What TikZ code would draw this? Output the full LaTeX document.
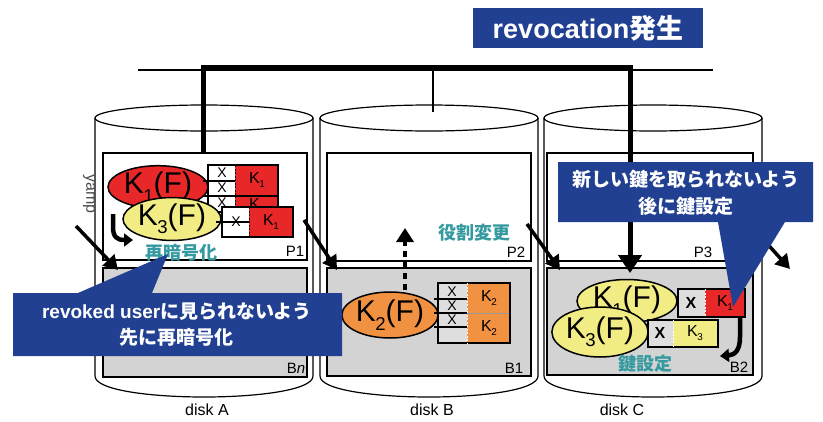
\documentclass[tikz,border=0pt]{standalone}
\usepackage{fontspec}
\usepackage{graphicx}
\setmainfont{Liberation Sans}
\newfontfamily\jp{Noto Sans CJK JP}
\usetikzlibrary{shapes.geometric,arrows.meta}
\definecolor{cblue}{RGB}{34,64,145}
\definecolor{cred}{RGB}{232,40,40}
\definecolor{cyel}{RGB}{242,236,132}
\definecolor{corange}{RGB}{241,145,66}
\definecolor{cgray}{RGB}{211,211,211}
\definecolor{ccell}{RGB}{222,222,222}
\definecolor{cteal}{RGB}{52,154,160}
\newcommand{\kk}[1]{K\kern-0.02em\raisebox{-0.28em}{\scalebox{0.62}{#1}}}
\tikzset{
  disk/.style={draw=black, line width=1.2pt, fill=white},
  panel/.style={draw=black, line width=1.6pt},
  keyell/.style={ellipse, draw=black, line width=1.5pt, inner sep=0pt, font=\fontsize{30}{30}\selectfont},
  keylab/.style={font=\fontsize{16}{16}\selectfont},
  xmark/.style={font=\fontsize{14}{14}\selectfont, inner sep=0pt},
  xbold/.style={font=\bfseries\fontsize{16}{16}\selectfont, inner sep=0pt},
  plab/.style={font=\fontsize{15}{15}\selectfont, inner sep=0pt},
  disklab/.style={font=\fontsize{16}{16}\selectfont},
  tealtext/.style={text=cteal, font=\jp\bfseries\fontsize{18}{18}\selectfont},
  callout/.style={fill=cblue, draw=none},
  calltext/.style={text=white, align=center, font=\bfseries\fontsize{19}{26}\selectfont},
  bigarrow/.style={line width=3.5pt, -{Triangle[length=14pt,width=16pt]}},
  blk/.style={draw=black, line width=1.5pt},
  divider/.style={draw=black, line width=0.8pt, dash pattern=on 2pt off 1.5pt},
}
\begin{document}
\begin{tikzpicture}[x=1pt,y=-1pt]
\useasboundingbox (0,0) rectangle (823,421);
\fill[white] (0,0) rectangle (823,421);

% ---- disks ----
\foreach \x in {95,320,544} {
  \draw[disk] (\x,118) -- (\x,376) .. controls (\x,404) and (\x+218,404) .. (\x+218,376) -- (\x+218,118);
  \draw[disk] (\x+109,118) ellipse [x radius=109, y radius=13];
}

% ---- bus lines ----
\coordinate (hl) at (138,70);
\coordinate (hr) at (713,70);
\coordinate (mt) at (433,70);
\coordinate (mb) at (433,112);
\draw[line width=1.5pt] (hl) -- (hr);
\draw[line width=1.5pt] (mt) -- (mb);

% ---- panels ----
\draw[panel, fill=white] (103,153) rectangle (307,260);
\draw[panel, fill=cgray] (103,268) rectangle (307,377);
\draw[panel, fill=white] (327,153) rectangle (531,261);
\draw[panel, fill=cgray] (327,268) rectangle (531,376);
\draw[panel, fill=white] (547,153) rectangle (753,261);
\draw[panel, fill=cgray] (547,268) rectangle (753,375);

\node[plab] (p1) at (295,251) {P1};
\node[plab] (bn) at (296,368) {B\textit{n}};
\node[plab] (p2) at (516,252) {P2};
\node[plab] (b1) at (514,368) {B1};
\node[plab] (p3) at (703,252) {P3};
\node[plab] (b2) at (739,367) {B2};

\node[disklab] (dA) at (207,410) {disk A};
\node[disklab] (dB) at (432,410) {disk B};
\node[disklab] (dC) at (622,410) {disk C};

% ---- thick revocation line ----
\coordinate (tA) at (203,153);
\coordinate (c1) at (203,67);
\coordinate (c2) at (630,67);
\coordinate (tC) at (630,273);
\draw[line width=5pt, -{Triangle[length=18pt,width=23pt]}] (tA) -- (c1) -- (c2) -- (tC);

% ---- disk A contents ----
\node[keyell, fill=cred, minimum width=100pt, minimum height=40pt] (k1a) at (158,187) {\kk{1}(F)};
% block A1
\fill[white] (208,165) rectangle (235,196);
\fill[cred] (235,165) rectangle (278,196);
\draw[blk] (208,165) rectangle (278,196);
\draw[line width=1.3pt] (203,181) -- (235,181);
\draw[divider] (235,165) -- (235,196);
\node[xmark] (xa1) at (222,173) {X};
\node[xmark] (xa2) at (222,188) {X};
\node[keylab] (ka1) at (257,180) {\kk{1}};
% block A2
\fill[white] (208,196) rectangle (235,212);
\fill[cred] (235,196) rectangle (278,212);
\draw[blk] (208,196) rectangle (278,212);
\draw[line width=1.3pt] (203,196) -- (208,196);
\draw[divider] (235,196) -- (235,212);
\node[xmark] (xa3) at (222,203) {X};
\node[keylab] (ka2) at (257,206) {\kk{1}};
% yellow ellipse
\node[keyell, fill=cyel, minimum width=98pt, minimum height=40pt] (k3a) at (172,219) {\kk{3}(F)};
% block A3
\fill[white] (222,207) rectangle (249,237);
\fill[cred] (249,207) rectangle (293,237);
\draw[blk] (222,207) rectangle (293,237);
\draw[line width=1.3pt] (216,222) -- (249,222);
\draw[divider] (249,207) -- (249,237);
\node[xmark] (xa4) at (236,222) {X};
\node[keylab] (ka3) at (271,222) {\kk{1}};
% curved arrow A
\coordinate (ra1) at (113,214);
\coordinate (ra2) at (133,240);
\draw[line width=4.5pt, -{Triangle[length=9pt,width=13pt]}] (ra1) -- (113,227) .. controls (113,237) and (117,240) .. (ra2);
\node[tealtext] (reenc) at (181,253) {再暗号化};
\node[font=\fontsize{16}{16}\selectfont, text=black!70, rotate=-90, inner sep=0pt] (yamp) at (89,194) {yamp};

% ---- disk B contents ----
\node[keyell, fill=corange, minimum width=96pt, minimum height=46pt] (k2b) at (390,315) {\kk{2}(F)};
\fill[ccell] (438,283) rectangle (467,343);
\fill[corange] (467,283) rectangle (510,343);
\draw[draw=black!40, line width=0.8pt] (467,313) -- (510,313);
\draw[line width=1.3pt] (434,299) -- (467,299);
\draw[line width=1.3pt] (434,313) -- (467,313);
\draw[line width=1.3pt] (434,327) -- (467,327);
\draw[blk] (438,283) rectangle (510,343);
\draw[divider, draw=white, line width=1pt] (467,283) -- (467,343);
\node[xmark] (xb1) at (452,292) {X};
\node[xmark] (xb2) at (452,306) {X};
\node[xmark] (xb3) at (452,320) {X};
\node[keylab] (kb1) at (489,298) {\kk{2}};
\node[keylab] (kb2) at (489,328) {\kk{2}};
\coordinate (dbs) at (405,290);
\coordinate (dbe) at (405,228);
\draw[line width=4pt, dash pattern=on 6pt off 5pt, -{Triangle[length=14pt,width=17pt]}] (dbs) -- (dbe);
\node[tealtext] (role) at (474,233) {役割変更};

% ---- disk C contents ----
\node[keyell, fill=cyel, minimum width=100pt, minimum height=43pt] (k1c) at (627,301) {\kk{1}(F)};
\fill[ccell] (678,289) rectangle (705,317);
\fill[cred] (705,289) rectangle (745,317);
\draw[blk] (678,289) rectangle (745,317);
\draw[divider, draw=white, line width=1pt] (705,289) -- (705,317);
\node[xbold] (xc1) at (691,303) {X};
\node[keylab] (kc1) at (725,303) {\kk{1}};
\node[keyell, fill=cyel, minimum width=96pt, minimum height=50pt] (k3c) at (600,332) {\kk{3}(F)};
\fill[ccell] (648,320) rectangle (673,347);
\fill[cyel] (673,320) rectangle (718,347);
\draw[blk] (648,320) rectangle (718,347);
\draw[divider, draw=white, line width=1pt] (673,320) -- (673,347);
\node[xbold] (xc2) at (660,333) {X};
\node[keylab] (kc2) at (695,333) {\kk{3}};
\coordinate (rc1) at (740,318);
\coordinate (rc2) at (720,356);
\draw[line width=4.5pt, -{Triangle[length=9pt,width=13pt]}] (rc1) -- (740,337) .. controls (740,350) and (735,355) .. (rc2);
\node[tealtext] (keyset) at (645,364) {鍵設定};

% ---- diagonal arrows ----
\coordinate (a1s) at (76,226); \coordinate (a1e) at (118,270);
\coordinate (a2s) at (304,220); \coordinate (a2e) at (337,270);
\coordinate (a3s) at (527,224); \coordinate (a3e) at (560,270);
\coordinate (a4s) at (753,228); \coordinate (a4e) at (790,269);
\draw[bigarrow] (a1s) -- (a1e);
\draw[bigarrow] (a2s) -- (a2e);
\draw[bigarrow] (a3s) -- (a3e);
\draw[bigarrow] (a4s) -- (a4e);

% ---- callouts ----
\fill[callout] (13,293) -- (78,293) -- (168,254) -- (152,293) -- (342,293) -- (342,356) -- (13,356) -- cycle;
\node[calltext] (call1) at (177,325) {revoked user{\jp に見られないよう}\\{\jp 先に再暗号化}};
\fill[callout] (558,162) -- (813,162) -- (813,222) -- (785,222) -- (733,307) -- (718,222) -- (558,222) -- cycle;
\node[calltext, font=\jp\bfseries\fontsize{19}{27}\selectfont] (call2) at (686,193) {新しい鍵を取られないよう\\後に鍵設定};

% ---- title ----
\node[fill=cblue, text=white, minimum width=230pt, minimum height=40pt, inner sep=0pt,
      font=\bfseries\fontsize{27}{27}\selectfont] (title) at (588,28) {revocation{\jp 発生}};
\end{tikzpicture}
\end{document}
